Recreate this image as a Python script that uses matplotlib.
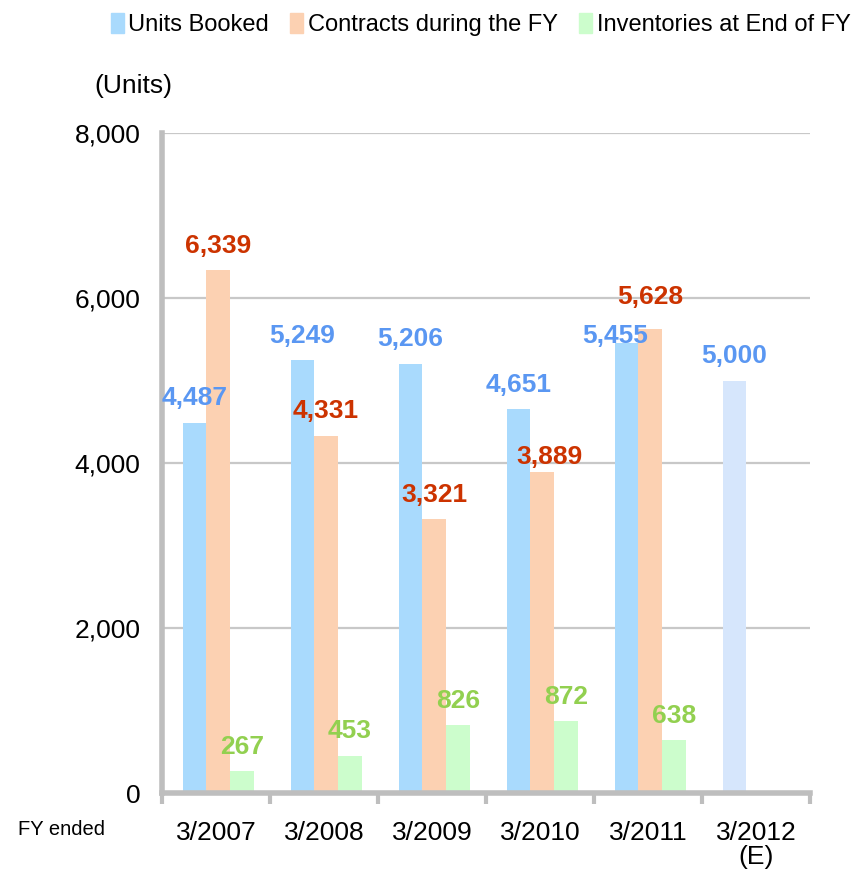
import numpy as np
import matplotlib.pyplot as plt
import matplotlib as mpl

mpl.rcParams['font.family'] = ['Liberation Sans', 'DejaVu Sans']

# Data
years = ["3/2007", "3/2008", "3/2009", "3/2010", "3/2011", "3/2012\n(E)"]
units_booked = [4487, 5249, 5206, 4651, 5455, 5000]
contracts = [6339, 4331, 3321, 3889, 5628, None]
inventories = [267, 453, 826, 872, 638, None]
series_names = ["Units Booked", "Contracts during the FY", "Inventories at End of FY"]

c_blue, c_orange, c_green, c_est = "#A9DAFD", "#FCD1B2", "#CCFDCC", "#D6E6FC"
t_blue, t_red, t_green = "#5A97F2", "#CC3300", "#92D050"
grid_c = "#C8C8C8"
spine_c = "#BEBEBE"

# label nudges (points) where the original moved labels to avoid clashes
nudge = {("b", 4): (-8, 0), ("c", 3): (5, 6), ("c", 4): (0, 18)}


def main():
    fig = plt.figure(figsize=(8.51, 8.75), dpi=100)
    ax = fig.add_axes([0.1904, 0.0937, 0.7614, 0.7543])

    x = np.arange(len(years)) + 0.5
    w = 0.22
    off = 0.02

    blue_cols = [c_blue] * 5 + [c_est]
    ax.bar(x + off - w, units_booked, w, color=blue_cols, zorder=3)
    cx = np.array([xi for xi, v in zip(x, contracts) if v is not None])
    cv = [v for v in contracts if v is not None]
    ax.bar(cx + off, cv, w, color=c_orange, zorder=3)
    iv = [v for v in inventories if v is not None]
    ax.bar(cx + off + w, iv, w, color=c_green, zorder=3)

    lab_kw = dict(ha="center", va="baseline", fontsize=19, fontweight="bold",
                  textcoords="offset points", zorder=5)

    def put(key, xs, vals, dx, color):
        for i, (xi, v) in enumerate(zip(xs, vals)):
            nx, ny = nudge.get((key, i), (0, 12.5))
            ax.annotate(f"{v:,}", (xi + dx, v), xytext=(nx, ny), color=color, **lab_kw)

    put("b", x, units_booked, off - w, t_blue)
    put("c", cx, cv, off, t_red)
    put("i", cx, iv, off + w, t_green)

    ax.set_xlim(0, 6)
    ax.set_ylim(0, 8000)
    ax.set_yticks(np.arange(0, 8001, 2000))
    ax.set_yticklabels([f"{v:,}" for v in range(0, 8001, 2000)], fontsize=19)
    ax.yaxis.grid(True, color=grid_c, linewidth=1.6, zorder=0)
    ax.tick_params(axis="y", length=0, pad=15.5)

    ax.set_xticks(x)
    ax.set_xticklabels(years, fontsize=19, linespacing=1.0)
    ax.set_xticks(np.arange(0, 7), minor=True)
    ax.tick_params(axis="x", which="major", length=0, pad=20)
    ax.tick_params(axis="x", which="minor", length=8, width=3, color=spine_c)

    for s in ["top", "right"]:
        ax.spines[s].set_visible(False)
    for s in ["left", "bottom"]:
        ax.spines[s].set_color(spine_c)
        ax.spines[s].set_linewidth(4)
        ax.spines[s].set_zorder(4)

    fig.text(0.111, 0.902, "(Units)", fontsize=19, ha="left", va="center")
    fig.text(0.021, 0.052, "FY ended", fontsize=14.5, ha="left", va="center")

    handles = [mpl.patches.Patch(color=c) for c in (c_blue, c_orange, c_green)]
    fig.legend(handles, series_names, loc="center", bbox_to_anchor=(0.565, 0.972),
               ncol=3, frameon=False, fontsize=17, handlelength=0.55, handleheight=0.9,
               handletextpad=0.2, columnspacing=0.9, borderaxespad=0)

    fig.savefig("out.png", dpi=100)


if __name__ == "__main__":
    main()
